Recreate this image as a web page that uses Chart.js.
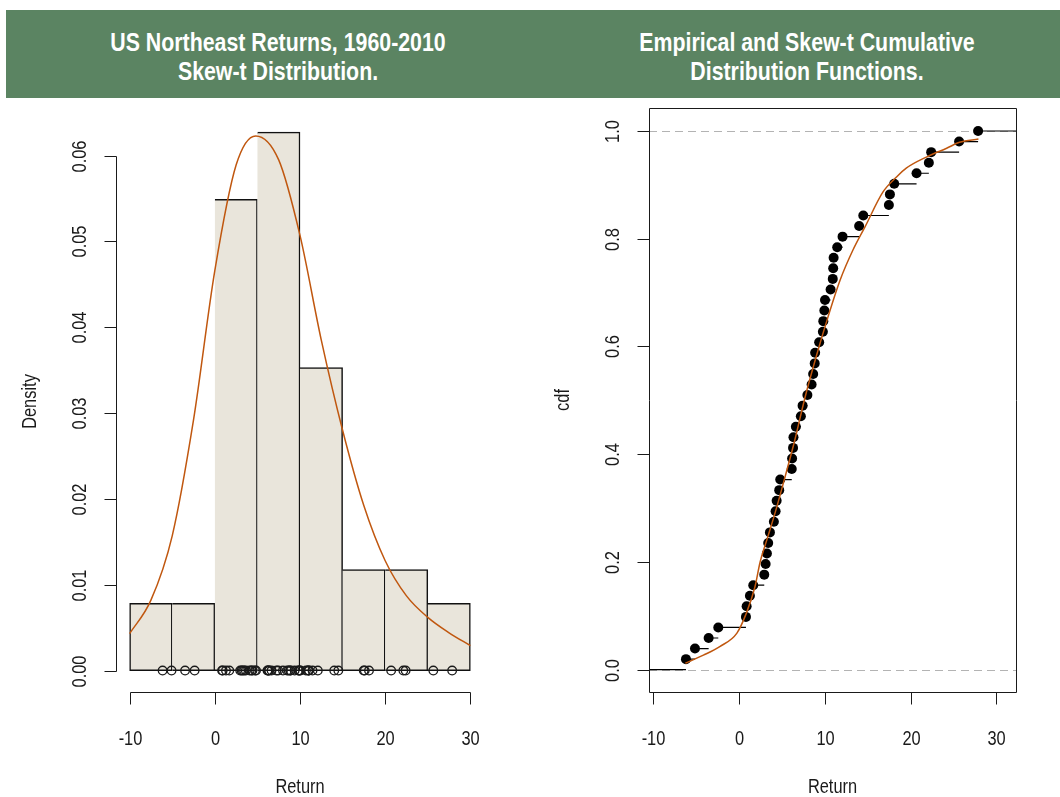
<!DOCTYPE html>
<html>
<head>
<meta charset="utf-8">
<title>US Northeast Returns, 1960-2010</title>
<script src="https://cdn.jsdelivr.net/npm/chart.js@4.4.1/dist/chart.umd.min.js"></script>
<style>
  html, body { margin: 0; padding: 0; background: #ffffff; }
  body { width: 1060px; height: 797px; position: relative; overflow: hidden; }
  #band { position: absolute; left: 6px; top: 10px; width: 1054px; height: 88px; background: #5b8462; }
  .title {
    position: absolute; top: 28px; width: 480px; text-align: center;
    color: #ffffff; font-family: "Liberation Sans", Arial, sans-serif;
    font-size: 26px; font-weight: bold; line-height: 29px; white-space: nowrap;
    transform: scaleX(0.82); transform-origin: 50% 50%;
  }
  #t1 { left: 38px; }
  #t2 { left: 567px; }
  .panel { position: absolute; top: 100px; width: 530px; height: 697px; }
  #p1 { left: 0; }
  #p2 { left: 530px; }
</style>
</head>
<body>
<div id="band"></div>
<div class="title" id="t1">US Northeast Returns, 1960-2010<br>Skew-t Distribution.</div>
<div class="title" id="t2">Empirical and Skew-t Cumulative<br>Distribution Functions.</div>
<div class="panel" id="p1"><canvas id="hist" width="530" height="697"></canvas></div>
<div class="panel" id="p2"><canvas id="cdf" width="530" height="697"></canvas></div>

<script>
// Annual returns, sorted (n = 51)
const returns = [
  -6.13, -5.08, -3.49, -2.37,
  0.85, 0.93, 1.31, 1.70, 2.98, 3.14, 3.29, 3.44, 3.64, 4.10, 4.30, 4.42, 4.72, 4.84,
  6.18, 6.22, 6.33, 6.38, 6.66, 7.24, 7.44, 8.00, 8.49, 8.67, 8.85, 8.90, 9.37, 9.80, 9.85, 9.97,
  10.05, 10.70, 10.95, 11.00, 11.05, 11.47, 12.09, 14.02, 14.50,
  17.48, 17.60, 18.10,
  20.70, 22.13, 22.40,
  25.65, 27.86
];

// Histogram bins (left edges, width 5) and counts
const binLeft = [-10, -5, 0, 5, 10, 15, 20, 25];
const binWidth = 5;
const binCounts = [2, 2, 14, 16, 9, 3, 3, 2];

// Fitted skew-t density
const densX = [-10, -7.5, -5, -2.5, 0, 2.5, 4.8, 7.5, 10, 12.5, 15, 17.5, 20, 22.5, 25, 27.5, 30];
const densY = [0.0043, 0.0082, 0.0157, 0.0292, 0.0466, 0.0589, 0.0623, 0.0595, 0.0507, 0.0385,
               0.0280, 0.0192, 0.0128, 0.0087, 0.0062, 0.0044, 0.0029];

// Fitted skew-t cumulative distribution
const cdfX = [-6.2, -4.1, -2.2, -0.2, 0.9, 1.9, 2.5, 3.4, 4.4, 5.4, 6.5, 7.7, 9.0, 10.4, 11.8,
              13.3, 14.7, 16.8, 18.4, 19.5, 21.9, 24.2, 25.7, 27.9];
const cdfY = [0.012, 0.027, 0.043, 0.068, 0.105, 0.154, 0.200, 0.247, 0.300, 0.358, 0.424, 0.504,
              0.580, 0.655, 0.723, 0.779, 0.822, 0.887, 0.915, 0.931, 0.952, 0.968, 0.979, 0.985];

// Axis ticks
const returnTicks = [-10, 0, 10, 20, 30];
const returnTickLabels = ['-10', '0', '10', '20', '30'];
const densityTicks = [0, 0.01, 0.02, 0.03, 0.04, 0.05, 0.06];
const densityTickLabels = ['0.00', '0.01', '0.02', '0.03', '0.04', '0.05', '0.06'];
const cdfTicks = [0, 0.2, 0.4, 0.6, 0.8, 1.0];
const cdfTickLabels = ['0.0', '0.2', '0.4', '0.6', '0.8', '1.0'];

// ---------------------------------------------------------------
const n = returns.length;
const AXIS_FONT = '20px "Liberation Sans", Arial, sans-serif';
const NARROW = 0.82;           // horizontal squeeze for a narrow face
const INK = '#1a1a1a';
const CURVE = '#c0570f';

function narrowText(ctx, text, x, y, angle) {
  ctx.save();
  ctx.translate(x, y);
  if (angle) ctx.rotate(angle);
  ctx.scale(NARROW, 1);
  ctx.fillText(text, 0, 0);
  ctx.restore();
}

// Base-graphics style axes: outward ticks, rotated y labels, optional frame
const baseAxes = {
  id: 'baseAxes',
  beforeDatasetsDraw(chart, args, o) {
    const { ctx, chartArea: a, scales } = chart;
    if (!o.hLines) return;
    ctx.save();
    ctx.strokeStyle = '#b3b3b3';
    ctx.lineWidth = 1;
    ctx.setLineDash([8, 5]);
    o.hLines.forEach(v => {
      const y = Math.round(scales.y.getPixelForValue(v)) + 0.5;
      ctx.beginPath(); ctx.moveTo(a.left, y); ctx.lineTo(a.right, y); ctx.stroke();
    });
    ctx.restore();
  },
  afterDraw(chart, args, o) {
    const { ctx, chartArea: a, scales } = chart;
    const xs = scales.x, ys = scales.y;
    ctx.save();
    ctx.strokeStyle = INK; ctx.fillStyle = INK; ctx.lineWidth = 1;
    ctx.font = AXIS_FONT;
    ctx.textAlign = 'center'; ctx.textBaseline = 'middle';

    const xb = Math.round(a.bottom) + 0.5;
    const yl = Math.round(a.left) + 0.5;
    const xp = o.xTicks.map(v => Math.round(xs.getPixelForValue(v)) + 0.5);
    const yp = o.yTicks.map(v => Math.round(ys.getPixelForValue(v)) + 0.5);

    ctx.beginPath();
    if (o.box) {
      ctx.rect(yl, Math.round(a.top) + 0.5, Math.round(a.right) - Math.round(a.left), Math.round(a.bottom) - Math.round(a.top));
    } else {
      ctx.moveTo(xp[0], xb); ctx.lineTo(xp[xp.length - 1], xb);
      ctx.moveTo(yl, yp[0]); ctx.lineTo(yl, yp[yp.length - 1]);
    }
    xp.forEach(p => { ctx.moveTo(p, xb); ctx.lineTo(p, xb + o.tick); });
    yp.forEach(p => { ctx.moveTo(yl, p); ctx.lineTo(yl - o.tick, p); });
    ctx.stroke();

    xp.forEach((p, i) => narrowText(ctx, o.xLabels[i], p, a.bottom + 47));
    narrowText(ctx, o.xTitle, (a.left + a.right) / 2, a.bottom + 95);
    yp.forEach((p, i) => narrowText(ctx, o.yLabels[i], a.left - 36, p, -Math.PI / 2));
    narrowText(ctx, o.yTitle, a.left - 86, (a.top + a.bottom) / 2, -Math.PI / 2);
    ctx.restore();
  }
};

const commonOpts = {
  responsive: false,
  animation: false,
  devicePixelRatio: 1,
  events: [],
  plugins: { legend: { display: false }, tooltip: { enabled: false } }
};

// ---------------- Histogram with density curve ----------------
const histBars = binLeft.map((l, i) => ({ x: l + binWidth / 2, y: binCounts[i] / (n * binWidth) }));
const rug = returns.map(v => ({ x: v, y: 0 }));
const densCurve = densX.map((x, i) => ({ x, y: densY[i] }));

new Chart(document.getElementById('hist'), {
  type: 'bar',
  data: {
    datasets: [
      {
        type: 'bar', data: histBars, order: 3,
        backgroundColor: '#e9e5db', borderColor: '#111111', borderWidth: 1.5,
        borderSkipped: ctx => ctx.dataIndex === 0 ? false : 'left',
        barPercentage: 1, categoryPercentage: 1
      },
      {
        type: 'scatter', data: rug, order: 2,
        pointRadius: 4.3, pointBorderWidth: 1.3, pointBorderColor: INK,
        pointBackgroundColor: 'rgba(0,0,0,0)', showLine: false
      },
      {
        type: 'line', data: densCurve, order: 1,
        borderColor: CURVE, borderWidth: 1.5, pointRadius: 0, fill: false,
        cubicInterpolationMode: 'monotone'
      }
    ]
  },
  options: Object.assign({}, commonOpts, {
    layout: { padding: { left: 116, right: 46, top: 11, bottom: 105 } },
    scales: {
      x: { type: 'linear', min: -11.6, max: 31.6, offset: false, display: false, grid: { offset: false } },
      y: { type: 'linear', min: -0.0025, max: 0.0652, display: false }
    },
    plugins: Object.assign({}, commonOpts.plugins, {
      baseAxes: {
        xTicks: returnTicks, xLabels: returnTickLabels, xTitle: 'Return',
        yTicks: densityTicks, yLabels: densityTickLabels, yTitle: 'Density',
        tick: 12, box: false
      }
    })
  }),
  plugins: [baseAxes]
});

// ---------------- Empirical and fitted CDF ----------------
const cdfView = { min: -10.43, max: 32.27 };
const ecdfPoints = returns.map((v, i) => ({ x: v, y: (i + 1) / n }));
// Horizontal steps of the empirical CDF (no verticals)
const ecdfSteps = [{ x: cdfView.min, y: 0 }, { x: returns[0], y: 0 }, { x: returns[0], y: null }];
returns.forEach((v, i) => {
  const next = i + 1 < n ? returns[i + 1] : cdfView.max;
  ecdfSteps.push({ x: v, y: (i + 1) / n }, { x: next, y: (i + 1) / n }, { x: next, y: null });
});
const cdfCurve = cdfX.map((x, i) => ({ x, y: cdfY[i] }));

new Chart(document.getElementById('cdf'), {
  type: 'scatter',
  data: {
    datasets: [
      {
        type: 'line', data: ecdfSteps, order: 3, spanGaps: false,
        borderColor: '#000000', borderWidth: 1.2, pointRadius: 0, fill: false, tension: 0
      },
      {
        type: 'scatter', data: ecdfPoints, order: 2,
        pointRadius: 5, pointBorderWidth: 0, pointBackgroundColor: '#000000'
      },
      {
        type: 'line', data: cdfCurve, order: 1,
        borderColor: CURVE, borderWidth: 1.5, pointRadius: 0, fill: false,
        cubicInterpolationMode: 'monotone'
      }
    ]
  },
  options: Object.assign({}, commonOpts, {
    layout: { padding: { left: 119, right: 44, top: 8, bottom: 105 } },
    scales: {
      x: { type: 'linear', min: cdfView.min, max: cdfView.max, display: false },
      y: { type: 'linear', min: -0.0414, max: 1.0427, display: false }
    },
    plugins: Object.assign({}, commonOpts.plugins, {
      baseAxes: {
        xTicks: returnTicks, xLabels: returnTickLabels, xTitle: 'Return',
        yTicks: cdfTicks, yLabels: cdfTickLabels, yTitle: 'cdf',
        tick: 12, box: true, hLines: [0, 1]
      }
    })
  }),
  plugins: [baseAxes]
});
</script>
</body>
</html>
